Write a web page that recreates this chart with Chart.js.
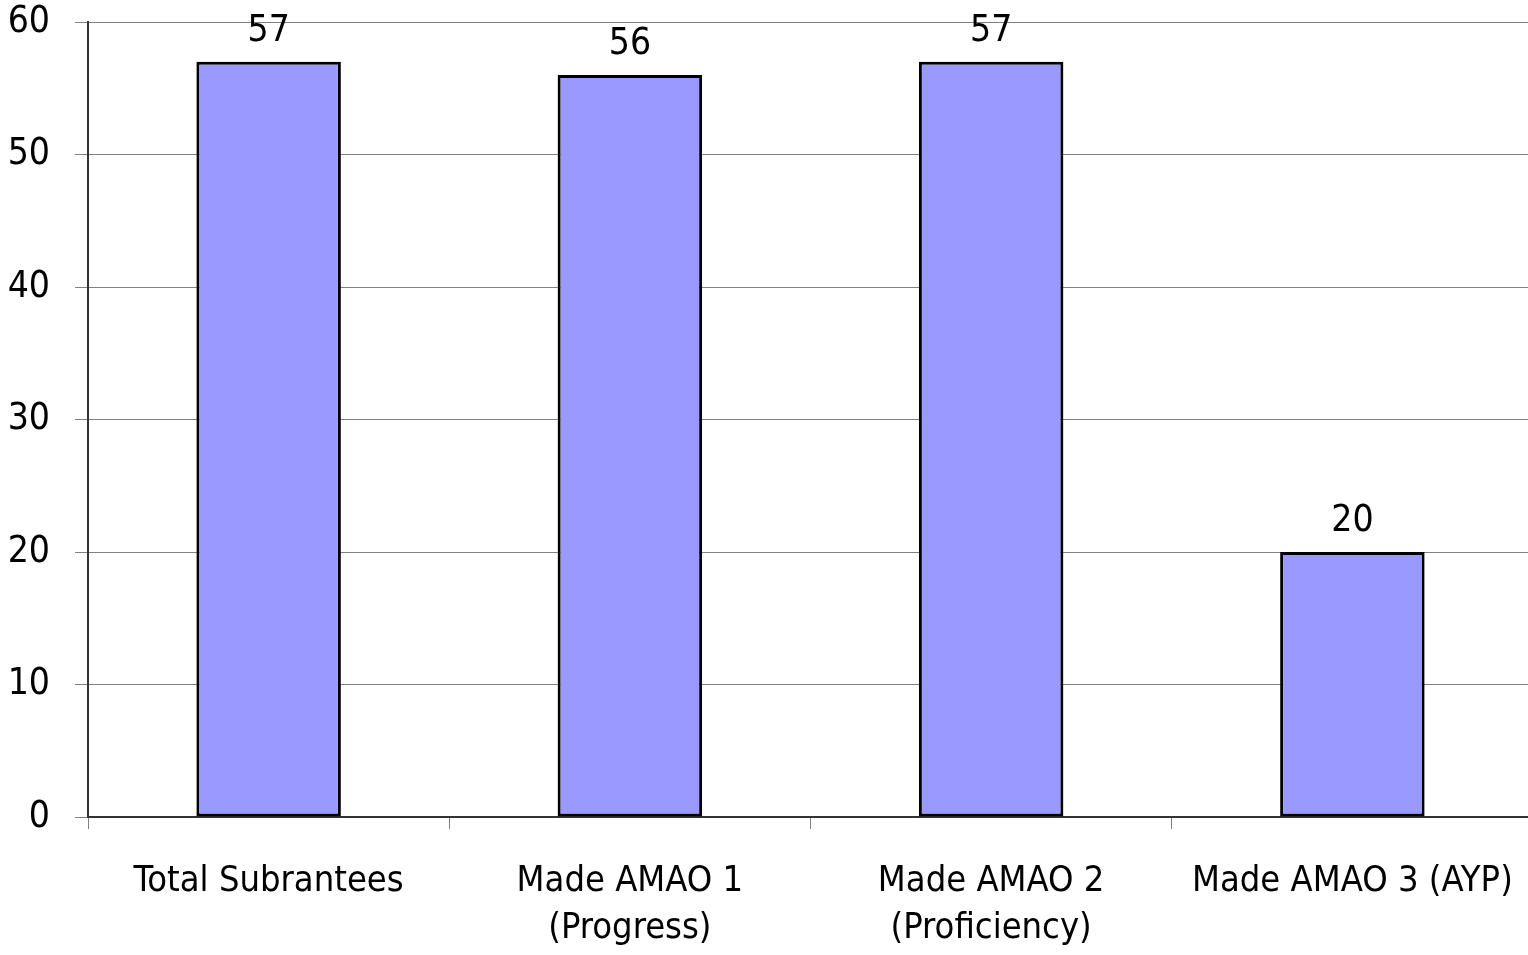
<!DOCTYPE html>
<html>
<head>
<meta charset="utf-8">
<script src="https://cdn.jsdelivr.net/npm/chart.js@4"></script>
<style>
    html, body { margin: 0; padding: 0; background: #fff; overflow: hidden; }
    #wrap { width: 1533px; height: 955px; }
</style>
</head>
<body>
<div id="wrap"><canvas id="chart"></canvas></div>
<script>
const categories = [
    'Total Subrantees',
    ['Made AMAO 1', '(Progress)'],
    ['Made AMAO 2', '(Proficiency)'],
    'Made AMAO 3 (AYP)'
];
const counts = [57, 56, 57, 20];
const yTicks = [0, 10, 20, 30, 40, 50, 60];

const FONT = "'Liberation Sans Narrow', 'DejaVu Sans Condensed', 'Liberation Sans', sans-serif";
// the weight string also carries the font-stretch keyword
const WEIGHT = 'normal condensed';

// value labels above each bar
const barLabels = {
    id: 'barLabels',
    afterDatasetsDraw(chart) {
        const ctx = chart.ctx;
        const meta = chart.getDatasetMeta(0);
        ctx.save();
        ctx.font = WEIGHT + ' 37px ' + FONT;
        ctx.fillStyle = '#000';
        ctx.textAlign = 'center';
        ctx.textBaseline = 'alphabetic';
        meta.data.forEach((bar, i) => {
            ctx.fillText(String(counts[i]), bar.x, bar.y - 21);
        });
        ctx.restore();
    }
};

const ctx = document.getElementById('chart');

const chart = new Chart(ctx, {
    type: 'bar',
    data: {
        labels: categories,
        datasets: [{
            data: counts,
            backgroundColor: '#9999FF',
            borderColor: '#000',
            borderWidth: 3,
            borderSkipped: false,
            barPercentage: 0.4,
            categoryPercentage: 1
        }]
    },
    options: {
        responsive: true,
        maintainAspectRatio: false,
        animation: false,
        layout: { padding: 0 },
        plugins: {
            legend: { display: false },
            tooltip: { enabled: false }
        },
        scales: {
            x: {
                offset: true,
                grid: {
                    offset: true,
                    drawOnChartArea: false,
                    color: '#808080',
                    tickLength: 12
                },
                border: { color: '#333', width: 2 },
                ticks: {
                    color: '#000',
                    font: { family: FONT, size: 36, weight: WEIGHT, lineHeight: 1.3 },
                    padding: 29,
                    maxRotation: 0,
                    autoSkip: false
                },
                afterFit(s) {
                    s.height = 138;
                    s.paddingLeft = 0;
                    s.paddingRight = 0;
                }
            },
            y: {
                min: 0,
                max: 60,
                afterBuildTicks(s) { s.ticks = yTicks.map(v => ({ value: v })); },
                grid: {
                    color: '#808080',
                    tickLength: 13
                },
                border: { color: '#333', width: 2 },
                ticks: {
                    color: '#000',
                    font: { family: FONT, size: 37, weight: WEIGHT },
                    padding: 25
                },
                afterFit(s) {
                    s.width = 88;
                    s.paddingTop = 22;
                    s.paddingBottom = 0;
                }
            }
        }
    },
    plugins: [barLabels]
});
</script>
</body>
</html>
